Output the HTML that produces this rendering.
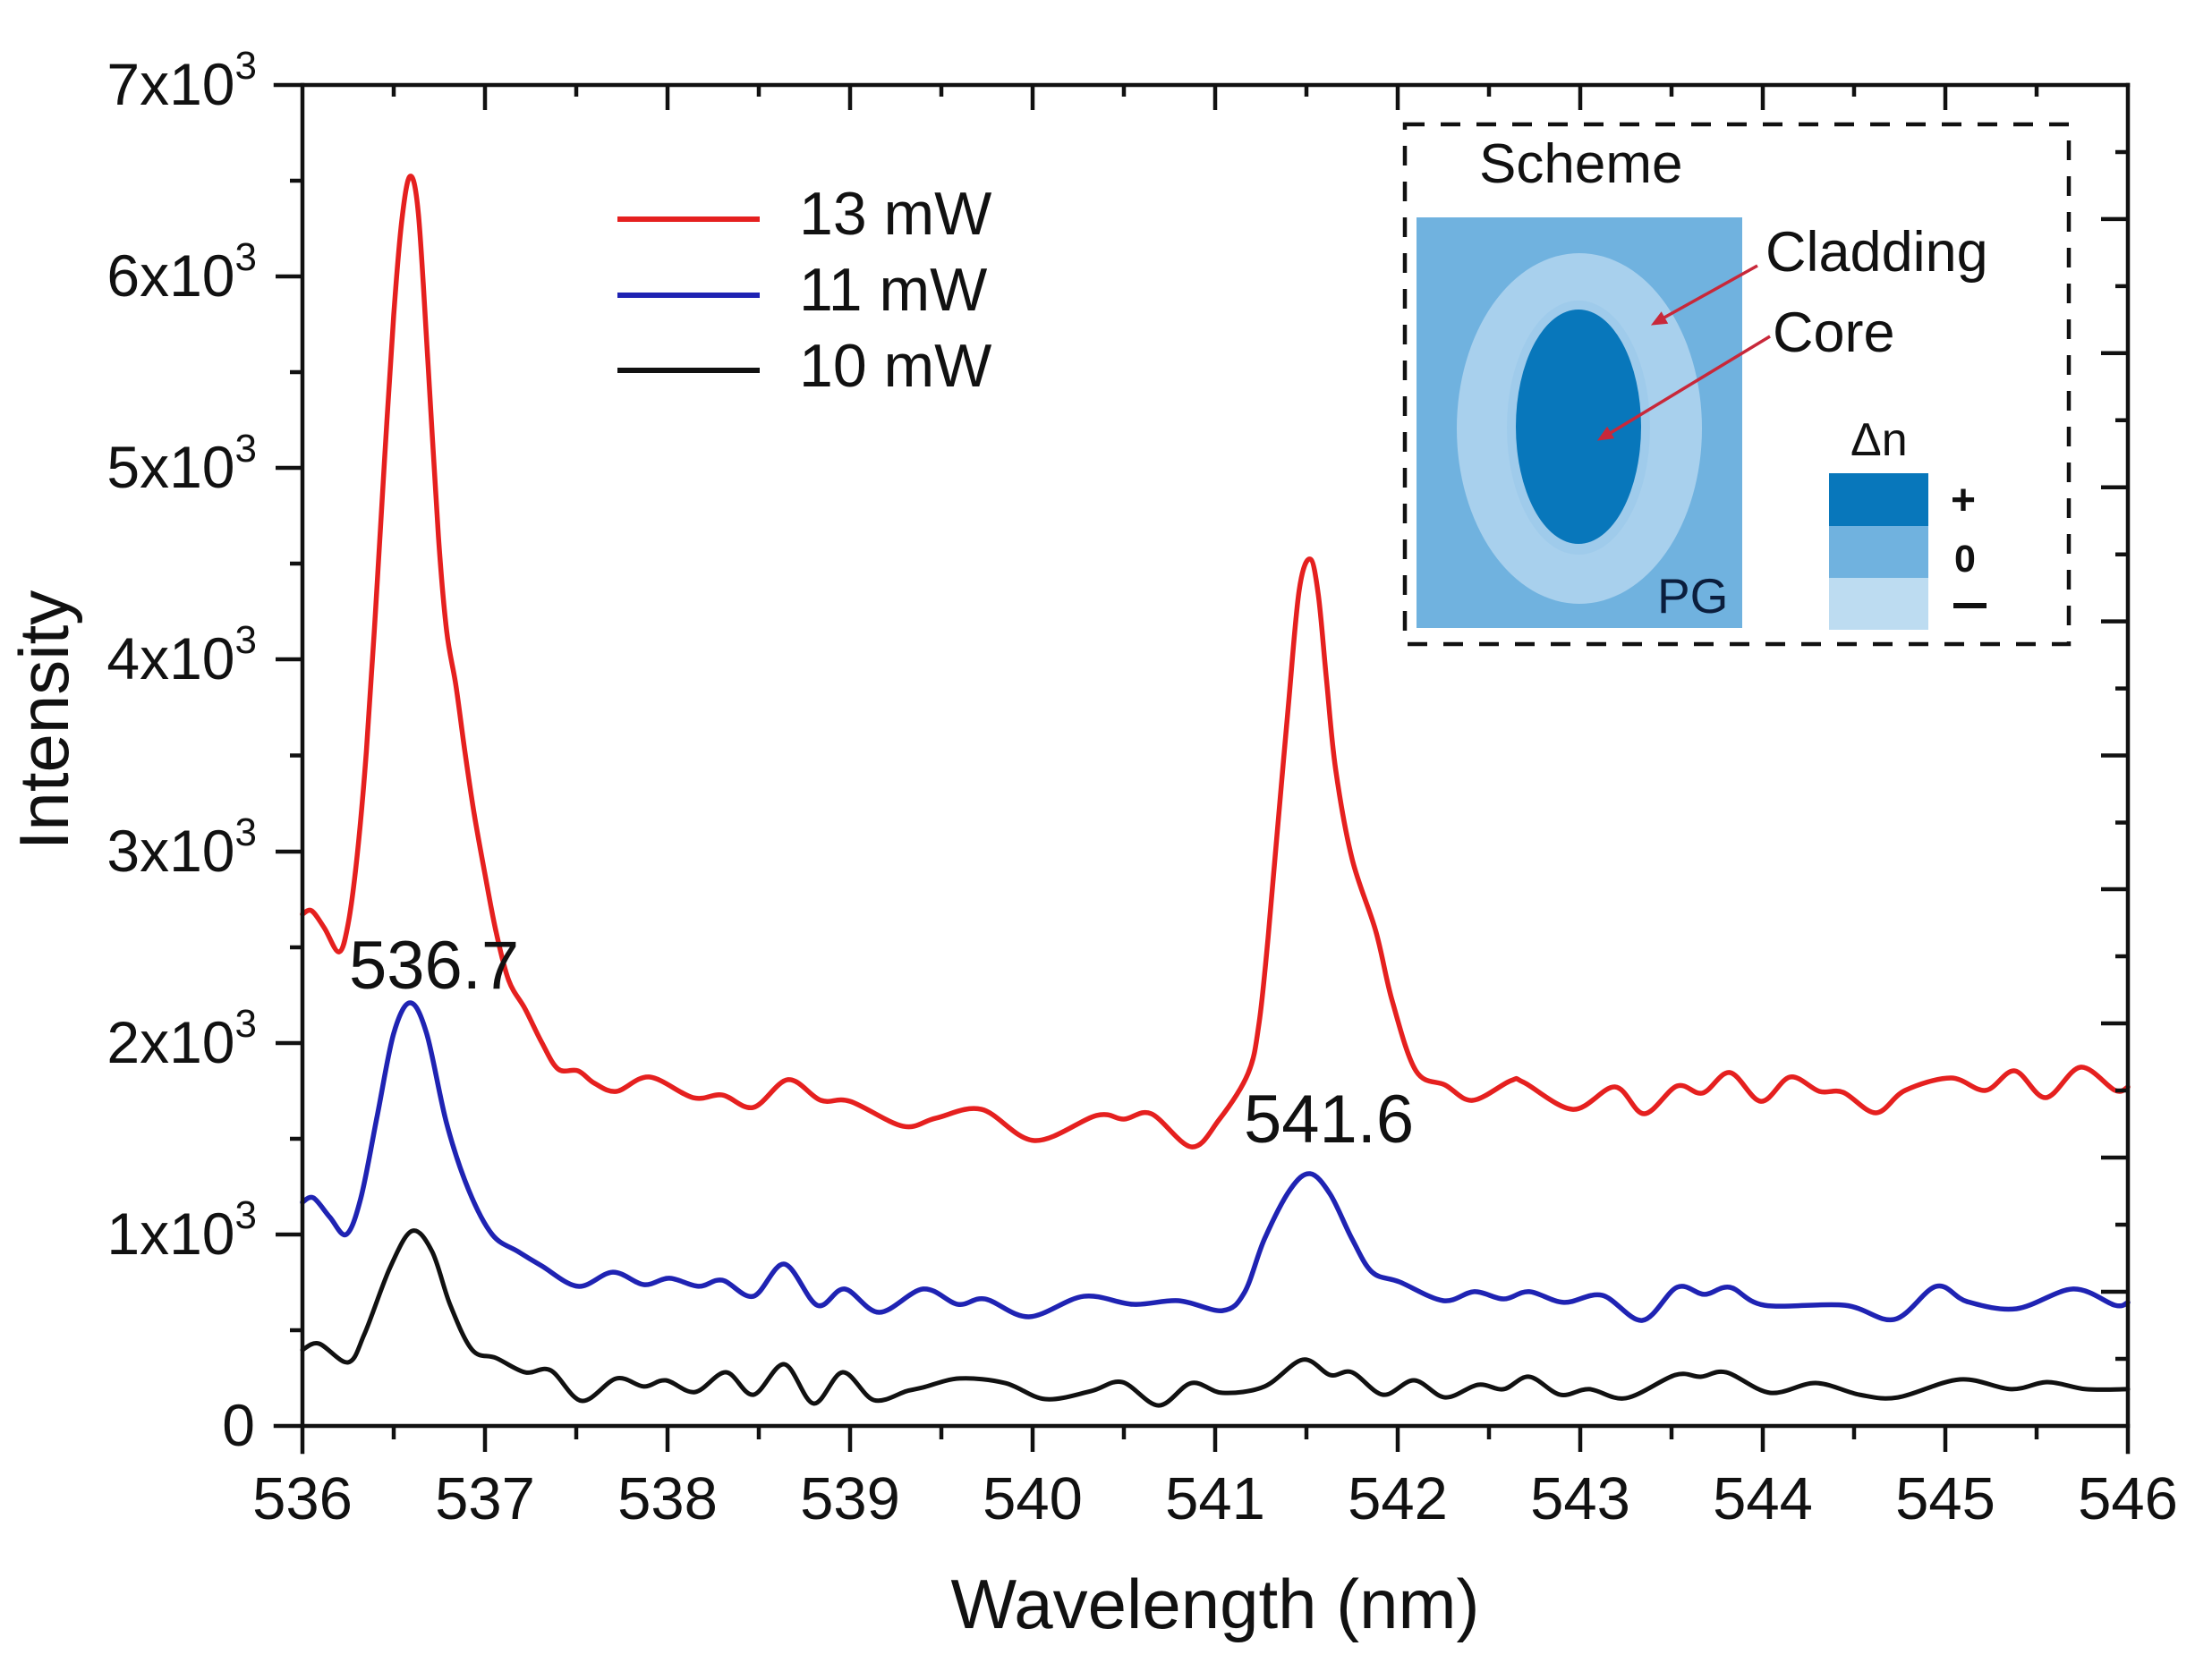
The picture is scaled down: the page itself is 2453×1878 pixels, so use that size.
<!DOCTYPE html>
<html>
<head>
<meta charset="utf-8">
<style>
  html, body { margin: 0; padding: 0; background: #ffffff; }
  svg { display: block; }
  text { font-family: "Liberation Sans", Arial, sans-serif; fill: #111; }
</style>
</head>
<body>
<svg xmlns="http://www.w3.org/2000/svg" width="2453" height="1878" viewBox="0 0 2453 1878">
  <rect x="0" y="0" width="2453" height="1878" fill="#ffffff"/>

  <!-- data curves (data coordinates: x = wavelength nm, y = intensity) -->
  <g transform="translate(338,1594) scale(204,-0.2141) translate(-536,0)" fill="none" stroke-linejoin="round" stroke-linecap="round">
    <path id="cRed" vector-effect="non-scaling-stroke" stroke="#e5201f" stroke-width="5.5"
      d="M536,2672 536.05,2690 536.12,2600 536.2,2475 536.25,2620 536.3,2980 536.35,3520 536.4,4250 536.45,5050 536.5,5800 536.545,6300 536.59,6525 536.635,6330 536.686,5577 536.745,4643 536.79,4150 536.84,3870 536.89,3520 536.94,3200 537,2880 537.06,2583 537.13,2326 537.22,2177 537.31,2004 537.4,1864 537.51,1854 537.6,1789 537.72,1747 537.9,1822 538.14,1714 538.3,1728 538.47,1663 538.66,1808 538.84,1700 539,1695 539.29,1565 539.47,1607 539.72,1653 540.01,1490 540.35,1621 540.5,1602 540.65,1630 540.87,1457 541.02,1597 541.18,1840 541.24,2100 541.29,2550 541.34,3100 541.4,3750 541.46,4362 541.52,4526 541.565,4340 541.61,3895 541.66,3428 541.75,2961 541.88,2583 541.97,2219 542.1,1854 542.26,1780 542.41,1700 542.62,1803 542.69,1794 542.96,1653 543.19,1770 543.35,1630 543.53,1775 543.67,1738 543.82,1845 543.99,1695 544.15,1822 544.31,1747 544.44,1742 544.62,1635 544.78,1752 545.03,1817 545.22,1752 545.38,1854 545.55,1714 545.74,1873 545.93,1752 546,1770"/>
    <path id="cBlue" vector-effect="non-scaling-stroke" stroke="#1f23b3" stroke-width="5.5"
      d="M536,1168 536.06,1191 536.15,1090 536.24,1000 536.32,1191 536.41,1621 536.5,2050 536.59,2209 536.68,2050 536.79,1579 536.91,1233 537.04,999 537.18,911 537.31,836 537.51,729 537.7,803 537.87,738 538.01,771 538.17,729 538.3,761 538.47,677 538.64,845 538.82,630 538.97,715 539.16,593 539.4,715 539.59,635 539.74,663 539.98,570 540.28,677 540.55,635 540.8,654 541.04,602 541.16,696 541.27,976 541.41,1233 541.52,1317 541.63,1210 541.75,976 541.86,803 542.01,752 542.25,654 542.42,701 542.58,663 542.72,701 542.91,645 543.12,682 543.34,551 543.53,724 543.68,687 543.82,724 544.01,630 544.45,630 544.72,556 544.95,729 545.12,649 545.39,612 545.7,715 545.93,630 546,645"/>
    <path id="cBlack" vector-effect="non-scaling-stroke" stroke="#111111" stroke-width="5"
      d="M536,397 536.09,430 536.25,332 536.34,481 536.48,827 536.6,1018 536.71,911 536.81,630 536.93,397 537.06,355 537.22,280 537.36,290 537.53,131 537.72,248 537.87,206 537.99,238 538.15,177 538.32,280 538.47,163 538.64,322 538.8,117 538.96,280 539.13,135 539.31,182 539.4,201 539.6,248 539.85,224 540.07,140 540.32,182 540.49,229 540.69,107 540.87,224 541.04,173 541.27,206 541.48,346 541.63,266 541.75,280 541.92,163 542.09,238 542.26,149 542.44,215 542.58,192 542.72,257 542.89,163 543.05,192 543.25,145 543.52,266 543.66,257 543.8,280 544.04,173 544.29,224 544.53,163 544.74,149 545.08,243 545.36,192 545.56,229 545.77,192 546,192"/>
  </g>

  <!-- axes frame -->
  <g stroke="#111" stroke-width="4.5" fill="none" stroke-linecap="square">
    <line x1="308" y1="1594" x2="2378" y2="1594"/>
    <line x1="308" y1="95" x2="2378" y2="95"/>
    <line x1="338" y1="95" x2="338" y2="1623"/>
    <line x1="2378" y1="95" x2="2378" y2="1623"/>
  </g>

  <!-- ticks -->
  <g stroke="#111" stroke-width="4.5" fill="none">
    <path d="M542,1594V1623 M746,1594V1623 M950,1594V1623 M1154,1594V1623 M1358,1594V1623 M1562,1594V1623 M1766,1594V1623 M1970,1594V1623 M2174,1594V1623"/>
    <path d="M440,1594V1609 M644,1594V1609 M848,1594V1609 M1052,1594V1609 M1256,1594V1609 M1460,1594V1609 M1664,1594V1609 M1868,1594V1609 M2072,1594V1609 M2276,1594V1609"/>
    <path d="M542,95V123 M746,95V123 M950,95V123 M1154,95V123 M1358,95V123 M1562,95V123 M1766,95V123 M1970,95V123 M2174,95V123"/>
    <path d="M440,95V108 M644,95V108 M848,95V108 M1052,95V108 M1256,95V108 M1460,95V108 M1664,95V108 M1868,95V108 M2072,95V108 M2276,95V108"/>
    <path d="M308,1380H338 M308,1166H338 M308,952H338 M308,737H338 M308,523H338 M308,309H338"/>
    <path d="M324,1487H338 M324,1273H338 M324,1059H338 M324,844.5H338 M324,630H338 M324,416H338 M324,202H338"/>
    <path d="M2348,1444H2378 M2348,1294H2378 M2348,1144H2378 M2348,994H2378 M2348,844.5H2378 M2348,694.6H2378 M2348,544.7H2378 M2348,394.8H2378 M2348,244.9H2378"/>
    <path d="M2364,1519H2378 M2364,1369H2378 M2364,1219H2378 M2364,1069H2378 M2364,919.5H2378 M2364,769.6H2378 M2364,619.7H2378 M2364,469.8H2378 M2364,319.9H2378 M2364,170H2378"/>
  </g>

  <!-- x tick labels -->
  <g font-size="67" text-anchor="middle">
    <text x="338" y="1698">536</text>
    <text x="542" y="1698">537</text>
    <text x="746" y="1698">538</text>
    <text x="950" y="1698">539</text>
    <text x="1154" y="1698">540</text>
    <text x="1358" y="1698">541</text>
    <text x="1562" y="1698">542</text>
    <text x="1766" y="1698">543</text>
    <text x="1970" y="1698">544</text>
    <text x="2174" y="1698">545</text>
    <text x="2378" y="1698">546</text>
  </g>

  <!-- y tick labels -->
  <g font-size="66" text-anchor="end">
    <text x="285" y="1616">0</text>
    <text x="287" y="1402">1x10<tspan font-size="44" dy="-29">3</tspan></text>
    <text x="287" y="1188">2x10<tspan font-size="44" dy="-29">3</tspan></text>
    <text x="287" y="974">3x10<tspan font-size="44" dy="-29">3</tspan></text>
    <text x="287" y="759">4x10<tspan font-size="44" dy="-29">3</tspan></text>
    <text x="287" y="545">5x10<tspan font-size="44" dy="-29">3</tspan></text>
    <text x="287" y="331">6x10<tspan font-size="44" dy="-29">3</tspan></text>
    <text x="287" y="117">7x10<tspan font-size="44" dy="-29">3</tspan></text>
  </g>

  <!-- axis titles -->
  <text x="1358" y="1820" font-size="78" text-anchor="middle">Wavelength (nm)</text>
  <text transform="translate(76,805) rotate(-90)" font-size="78" text-anchor="middle">Intensity</text>

  <!-- peak annotations -->
  <text x="390" y="1105" font-size="76">536.7</text>
  <text x="1390" y="1277" font-size="76">541.6</text>

  <!-- legend -->
  <g stroke-width="6" stroke-linecap="butt">
    <line x1="690" y1="245" x2="849" y2="245" stroke="#e5201f"/>
    <line x1="690" y1="330" x2="849" y2="330" stroke="#1f23b3"/>
    <line x1="690" y1="414" x2="849" y2="414" stroke="#111"/>
  </g>
  <g font-size="68">
    <text x="893" y="262">13 mW</text>
    <text x="893" y="347">11 mW</text>
    <text x="893" y="432">10 mW</text>
  </g>

  <!-- inset scheme -->
  <rect x="1570" y="139" width="742" height="581" fill="#ffffff" stroke="#111" stroke-width="4.5" stroke-dasharray="22,18"/>
  <text x="1653" y="204" font-size="62">Scheme</text>
  <rect x="1583" y="243" width="364" height="459" fill="#70b2df"/>
  <ellipse cx="1765" cy="479" rx="137" ry="196" fill="#a8d0ed"/>
  <ellipse cx="1764" cy="478" rx="80" ry="142" fill="#9fcbeb"/>
  <ellipse cx="1764" cy="477" rx="70" ry="131" fill="#0877bb"/>
  <text x="1852" y="685" font-size="55" style="fill:#0b1e3d">PG</text>

  <text x="1973" y="303" font-size="63">Cladding</text>
  <text x="1981" y="393" font-size="63">Core</text>

  <g stroke="#c8283a" stroke-width="3.5" fill="#c8283a">
    <line x1="1964" y1="297" x2="1858" y2="356"/>
    <polygon points="1846,363 1863.4,361.3 1856.6,349.1" stroke-width="1"/>
    <line x1="1978" y1="376" x2="1798" y2="485"/>
    <polygon points="1786,492 1803.3,489.7 1796.1,477.7" stroke-width="1"/>
  </g>

  <!-- delta n legend -->
  <text x="2068" y="509" font-size="52">Δn</text>
  <rect x="2044" y="529" width="111" height="59" fill="#0877bb"/>
  <rect x="2044" y="588" width="111" height="58" fill="#70b2df"/>
  <rect x="2044" y="646" width="111" height="58" fill="#bddcf1"/>
  <g font-weight="bold">
    <text x="2180" y="575" font-size="48">+</text>
    <text x="2184" y="639" font-size="43">0</text>
  </g>
  <rect x="2183" y="674" width="37" height="6" fill="#111"/>
</svg>

<script>
(function(){
  function smooth(id){
    var p = document.getElementById(id);
    if(!p) return;
    var nums = p.getAttribute('d').replace(/^M/,'').trim().split(/[\s,]+/).map(Number);
    var pts = [];
    for (var i=0;i<nums.length;i+=2) pts.push([nums[i],nums[i+1]]);
    var n = pts.length;
    function f(v){ return Math.round(v*10000)/10000; }
    var d = 'M' + f(pts[0][0]) + ',' + f(pts[0][1]);
    for (var i=0;i<n-1;i++){
      var p0 = pts[Math.max(i-1,0)], p1 = pts[i], p2 = pts[i+1], p3 = pts[Math.min(i+2,n-1)];
      var c1x = p1[0] + (p2[0]-p0[0])/6, c1y = p1[1] + (p2[1]-p0[1])/6;
      var c2x = p2[0] - (p3[0]-p1[0])/6, c2y = p2[1] - (p3[1]-p1[1])/6;
      d += ' C' + f(c1x)+','+f(c1y)+' '+f(c2x)+','+f(c2y)+' '+f(p2[0])+','+f(p2[1]);
    }
    p.setAttribute('d', d);
  }
  try { smooth('cRed'); smooth('cBlue'); smooth('cBlack'); } catch(e) {}
})();
</script>
</body>
</html>
